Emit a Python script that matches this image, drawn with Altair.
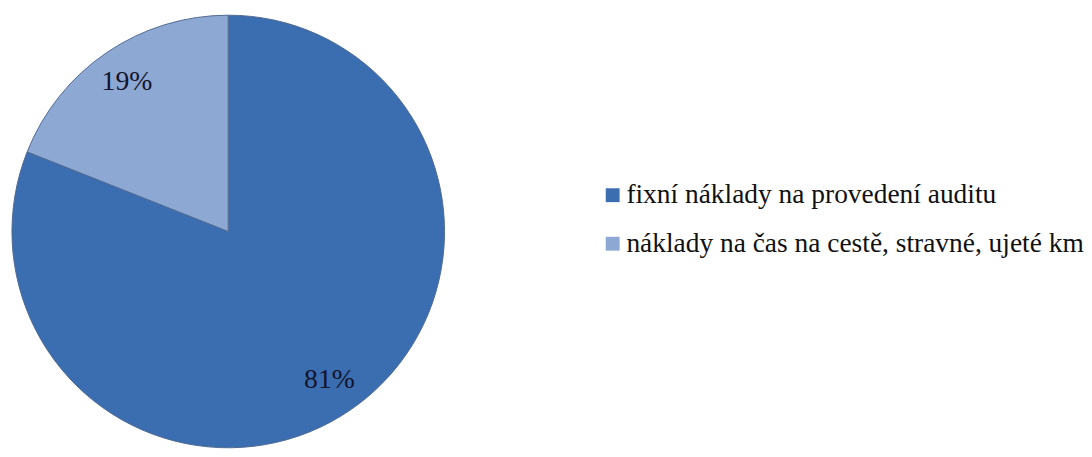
import altair as alt
import pandas as pd

categories = ["fixní náklady na provedení auditu",
              "náklady na čas na cestě, stravné, ujeté km"]
values = [81, 19]
colors = ["#3b6db1", "#8ea8d4"]

df = pd.DataFrame({
    "category": categories,
    "value": values,
    "ord": list(range(len(categories))),
    "label": [f"{v}%" for v in values],
})

cx, cy, r = 222.5, 223.5, 218.5

base = alt.Chart(df).encode(
    theta=alt.Theta("value:Q", stack=True),
    order=alt.Order("ord:Q", sort="ascending"),
)

arcs = base.mark_arc(
    outerRadius=r, stroke="#4f6a92", strokeWidth=1
).encode(
    x=alt.value(cx), y=alt.value(cy),
    color=alt.Color(
        "category:N",
        scale=alt.Scale(domain=categories, range=colors),
        legend=alt.Legend(
            title=None, orient="none", legendX=597, legendY=173,
            symbolType="square", symbolSize=196, symbolStrokeWidth=0,
            labelFont="Liberation Serif", labelFontSize=27.7,
            labelColor="#111111", labelLimit=700, rowPadding=20,
            labelOffset=0,
        ),
    ),
)

labels = base.mark_text(
    radius=182, font="Liberation Serif", fontSize=28, color="#14142a",
    align="center", baseline="middle",
).encode(
    x=alt.value(cx), y=alt.value(cy),
    detail="category:N",
    text="label:N",
)

chart = alt.layer(arcs, labels).properties(
    width=1076, height=441, padding=0
).configure(
    background="white", view=alt.ViewConfig(stroke=None)
)

chart.save("out.html", embed_options={"renderer": "svg", "actions": False})
